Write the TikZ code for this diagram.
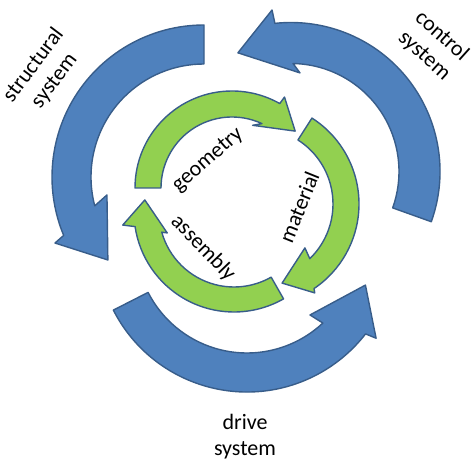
\documentclass[tikz,border=0pt]{standalone}
\usepackage{fontspec}
\setmainfont{Carlito}
\definecolor{arrowblue}{HTML}{4F81BD}
\definecolor{arrowgreen}{HTML}{92D050}
\definecolor{edgeblue}{HTML}{385D8A}
\begin{document}
\begin{tikzpicture}[x=1pt,y=1pt,line join=round,
	bluearrow/.style={fill=arrowblue,draw=edgeblue,line width=1.4},
	greenarrow/.style={fill=arrowgreen,draw=edgeblue,line width=1.4},
	lbl/.style={align=center,font=\fontsize{22}{26}\selectfont,inner sep=0pt}]
	\useasboundingbox (0,0) rectangle (474,460);
	% outer ring
	\draw[bluearrow,shift={(204,283)}] (90:152) arc[start angle=90,end angle=202.6,radius=152] -- (203.9:163) -- (220.8:127) -- (190.5:98.7) -- (194.8:113) arc[start angle=194.8,end angle=90,radius=113] -- cycle;
	\draw[bluearrow,shift={(291,288.5)}] (-19.7:149) arc[start angle=-19.7,end angle=96.2,radius=149] -- (96.7:162.6) -- (114.1:130) -- (84.8:99) -- (88.9:108) arc[start angle=88.9,end angle=-19.7,radius=108] -- cycle;
	\draw[bluearrow,shift={(247,218)}] (207:150) arc[start angle=207,end angle=322.2,radius=150] -- (323.3:161) -- (340:126) -- (310.8:96.4) -- (313.1:111) arc[start angle=313.1,end angle=207,radius=111] -- cycle;
	% inner ring
	\draw[greenarrow,shift={(232,272)}] (180:97) arc[start angle=180,end angle=60.5,radius=97] -- (60:105) -- (42:85) -- (71.8:66) -- (65:71) arc[start angle=65,end angle=180,radius=71] -- cycle;
	\draw[greenarrow,shift={(257,256)}] (57.4:102) arc[start angle=57.4,end angle=-56,radius=102] -- (-57:106) -- (-72.4:83) -- (-42.5:65) -- (-46:76) arc[start angle=-46,end angle=57.4,radius=76] -- cycle;
	\draw[greenarrow,shift={(234,248)}] (-60.3:100) arc[start angle=-60.3,end angle=-171.6,radius=100] -- (-173.3:112) -- (-187.7:90) -- (-162.6:70) -- (-164.4:75) arc[start angle=-164.4,end angle=-60.3,radius=75] -- cycle;
	% labels
	\node[lbl,rotate=53] (structural) at (44,387) {structural\\system};
	\node[lbl,rotate=-42] (control) at (433,414) {control\\system};
	\node[lbl] (drive) at (245,23.5) {drive\\system};
	\node[lbl,rotate=41] (geometry) at (208,300) {geometry};
	\node[lbl,rotate=68] (material) at (299,253) {material};
	\node[lbl,rotate=-46] (assembly) at (203,212) {assembly};
\end{tikzpicture}
\end{document}
